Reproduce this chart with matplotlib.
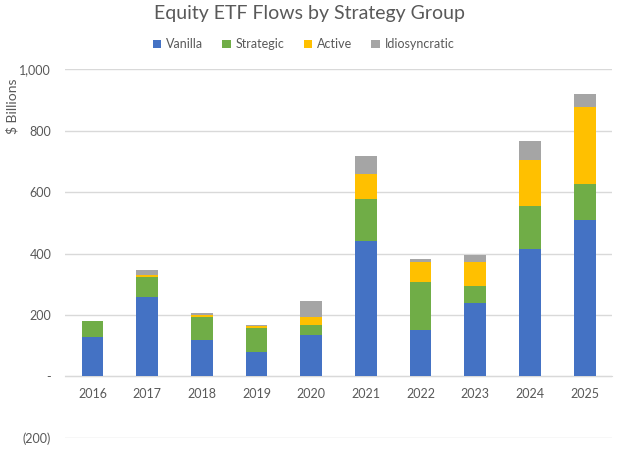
import numpy as np
import matplotlib
matplotlib.use("Agg")
import matplotlib.pyplot as plt

years = ["2016", "2017", "2018", "2019", "2020", "2021", "2022", "2023", "2024", "2025"]
vanilla = [128, 257, 120, 80, 134, 441, 151, 240, 415, 510]
strategic = [52, 68, 75, 77, 35, 138, 158, 56, 140, 118]
active = [0, 6, 6, 6, 25, 81, 63, 78, 149, 249]
idiosyncratic = [0, 14, 4, 3, 52, 57, 10, 21, 61, 43]

series = [("Vanilla", vanilla, "#4472C4"),
          ("Strategic", strategic, "#70AD47"),
          ("Active", active, "#FFC000"),
          ("Idiosyncratic", idiosyncratic, "#A5A5A5")]

plt.rcParams['font.family'] = ['Lato', 'DejaVu Sans']
txt = "#595959"

fig = plt.figure(figsize=(6.2, 4.5), dpi=100)
ax = fig.add_axes([0.105, 0.027, 0.882, 0.819])

x = np.arange(len(years))
bottom = np.zeros(len(years))
for name, vals, col in series:
    vals = np.array(vals, dtype=float)
    ax.bar(x, vals, 0.4, bottom=bottom, color=col, label=name, zorder=3)
    bottom += vals

ax.set_xlim(-0.5, 9.5)
ax.set_ylim(-200, 1000)
ticks = [-200, 0, 200, 400, 600, 800, 1000]
labels = ["(200)", "-", "200", "400", "600", "800", "1,000"]
ax.set_yticks(ticks)
ax.set_yticklabels(labels, color=txt, fontsize=9)
ax.yaxis.grid(True, color="#D9D9D9", linewidth=1, zorder=0)
ax.tick_params(axis='y', length=0, pad=10)

for s in ["top", "right", "left"]:
    ax.spines[s].set_visible(False)
ax.spines["bottom"].set_position(("data", 0))
ax.spines["bottom"].set_color("#D9D9D9")
ax.set_xticks(x)
ax.set_xticklabels(years, color=txt, fontsize=9)
ax.tick_params(axis='x', length=0, pad=8)

ax.set_ylabel("$ Billions", color=txt, fontsize=10)
ax.yaxis.set_label_coords(-0.085, 0.9)

fig.suptitle("Equity ETF Flows by Strategy Group", y=0.99, fontsize=14, color=txt)
fig.legend(loc="upper center", bbox_to_anchor=(0.49, 0.94), ncol=4, frameon=False,
           fontsize=9, handlelength=0.7, handleheight=0.7, handletextpad=0.4,
           columnspacing=1.5, labelcolor=txt)

fig.savefig("out.png", dpi=100)
